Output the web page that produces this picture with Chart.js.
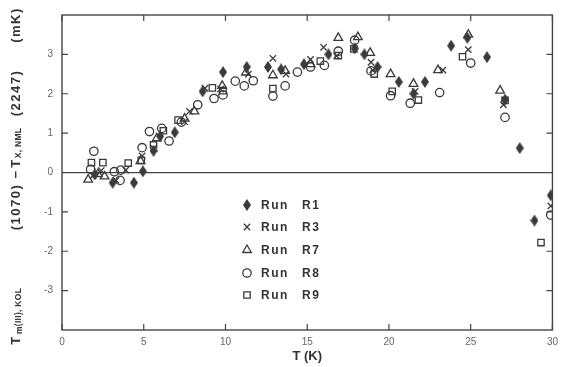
<!DOCTYPE html>
<html><head><meta charset="utf-8">
<script src="https://cdn.jsdelivr.net/npm/chart.js@4.4.1/dist/chart.umd.min.js"></script>
<style>html,body{margin:0;padding:0;background:#fff;}#wrap{width:564px;height:367px;}</style>
</head><body><div id="wrap"><canvas id="c" width="564" height="367"></canvas></div>
<script>
// ---- data (T in K, difference in mK) ----
const r1T = [2.0, 3.1, 4.4, 4.95, 5.6, 6.0, 6.9, 8.6, 9.85, 11.3, 12.6, 13.4, 14.8, 16.3, 17.9, 18.5, 19.3, 20.6, 21.5, 22.2, 23.8, 24.8, 26.0, 27.1, 28.0, 28.9, 29.9];
const r1V = [-0.05, -0.26, -0.26, 0.03, 0.55, 0.92, 1.02, 2.06, 2.55, 2.68, 2.68, 2.62, 2.75, 3.0, 3.15, 3.0, 2.68, 2.3, 2.0, 2.3, 3.22, 3.42, 2.93, 1.85, 0.62, -1.22, -0.58];
const r3T = [1.9, 2.4, 3.3, 3.9, 4.9, 5.6, 7.5, 7.8, 8.75, 9.7, 11.4, 12.9, 13.7, 15.2, 16.0, 16.8, 18.9, 19.0, 21.6, 23.3, 24.85, 27.0, 29.9];
const r3V = [-0.08, 0.05, -0.2, 0.06, 0.42, 0.62, 1.29, 1.55, 2.14, 2.12, 2.5, 2.9, 2.5, 2.87, 3.18, 2.96, 2.8, 2.6, 2.06, 2.6, 3.12, 1.72, -0.85];
const r7T = [1.6, 2.2, 2.6, 4.8, 5.8, 7.5, 8.1, 9.8, 11.25, 12.9, 13.65, 15.2, 16.9, 18.1, 18.85, 20.1, 21.5, 23.0, 24.85, 26.8];
const r7V = [-0.18, -0.04, -0.1, 0.29, 0.87, 1.37, 1.55, 2.2, 2.54, 2.47, 2.58, 2.75, 3.42, 3.44, 3.04, 2.5, 2.25, 2.6, 3.5, 2.08];
const r8T = [1.75, 1.95, 3.2, 3.55, 3.6, 4.9, 5.35, 6.1, 6.55, 7.3, 8.3, 9.3, 9.85, 10.6, 11.15, 11.7, 12.9, 13.65, 14.4, 15.2, 16.05, 16.9, 17.9, 18.9, 20.1, 21.3, 23.1, 25.0, 27.1, 29.9];
const r8V = [0.08, 0.54, 0.02, -0.2, 0.06, 0.63, 1.04, 1.12, 0.8, 1.28, 1.72, 1.88, 1.97, 2.32, 2.2, 2.33, 1.94, 2.2, 2.55, 2.68, 2.72, 3.08, 3.36, 2.58, 1.95, 1.76, 2.03, 2.78, 1.4, -1.08];
const r9T = [1.8, 2.5, 4.05, 4.85, 5.6, 6.2, 7.1, 9.2, 9.85, 12.9, 15.8, 16.9, 17.85, 19.1, 20.2, 21.8, 24.5, 27.1, 29.3];
const r9V = [0.25, 0.25, 0.24, 0.31, 0.7, 1.06, 1.33, 2.15, 2.08, 2.13, 2.83, 2.97, 3.14, 2.5, 2.06, 1.84, 2.94, 1.83, -1.78];
const seriesNames = ["Run  R1", "Run  R3", "Run  R7", "Run  R8", "Run  R9"];
const xTicks = [0, 5, 10, 15, 20, 25, 30];
const yTickLabels = ["-3", "-2", "-1", "0", "1", "2", "3"];

const INK = '#3a3a3a';
function pts(t, v) { return t.map((x, i) => ({ x: x, y: v[i] })); }

// tall filled diamond marker
const dia = document.createElement('canvas');
dia.width = 8; dia.height = 12;
(function () {
  const g = dia.getContext('2d');
  g.fillStyle = INK;
  g.beginPath(); g.moveTo(4, 0); g.lineTo(8, 6); g.lineTo(4, 12); g.lineTo(0, 6); g.closePath(); g.fill();
})();

const styles = [
  { pointStyle: dia, radius: 5, fill: INK },
  { pointStyle: 'crossRot', radius: 4.5, fill: 'transparent' },
  { pointStyle: 'triangle', radius: 5, fill: 'transparent' },
  { pointStyle: 'circle', radius: 4.2, fill: 'transparent' },
  { pointStyle: 'rect', radius: 4.5, fill: 'transparent' }
];
const raw = [[r1T, r1V], [r3T, r3V], [r7T, r7V], [r8T, r8V], [r9T, r9V]];
const datasets = raw.map((d, i) => ({
  label: seriesNames[i],
  data: pts(d[0], d[1]),
  pointStyle: styles[i].pointStyle,
  pointRadius: styles[i].radius,
  pointBackgroundColor: styles[i].fill,
  pointBorderColor: INK,
  pointBorderWidth: 1.3,
  showLine: false
}));

const frame = {
  id: 'frame',
  afterDatasetsDraw(chart) {
    const { ctx, chartArea: a, scales } = chart;
    const xs = scales.x, ys = scales.y;
    ctx.save();
    ctx.strokeStyle = '#444'; ctx.lineWidth = 1.4;
    ctx.strokeRect(a.left, a.top, a.right - a.left, a.bottom - a.top);
    ctx.lineWidth = 1.2;
    const L = 6;
    xs.ticks.forEach(t => {
      const p = xs.getPixelForValue(t.value);
      ctx.beginPath(); ctx.moveTo(p, a.bottom); ctx.lineTo(p, a.bottom - L);
      ctx.moveTo(p, a.top); ctx.lineTo(p, a.top + L); ctx.stroke();
    });
    ys.ticks.forEach(t => {
      const p = ys.getPixelForValue(t.value);
      ctx.beginPath(); ctx.moveTo(a.left, p); ctx.lineTo(a.left + L, p);
      ctx.moveTo(a.right, p); ctx.lineTo(a.right - L, p); ctx.stroke();
    });
    // legend
    const lx = 247, lrows = [205, 227, 250, 273, 295];
    ctx.fillStyle = '#333';
    ctx.font = 'bold 12px "Liberation Sans", Arial, sans-serif';
    ctx.letterSpacing = '1.5px';
    ctx.textBaseline = 'middle'; ctx.textAlign = 'left';
    datasets.forEach((ds, i) => {
      const y = lrows[i];
      ctx.lineWidth = 1.3; ctx.strokeStyle = INK; ctx.fillStyle = styles[i].fill;
      Chart.helpers.drawPoint(ctx, { pointStyle: ds.pointStyle, radius: styles[i].radius, borderWidth: 1.3, rotation: 0 }, lx, y);
      ctx.fillStyle = '#333';
      const parts = ds.label.split('  ');
      ctx.fillText(parts[0], 261, y + 1);
      ctx.fillText(parts[1], 302, y + 1);
    });
    // y axis title
    ctx.translate(16, 0);
    ctx.rotate(-Math.PI / 2);
    ctx.textAlign = 'center';
    const big = 'bold 13px "Liberation Sans", Arial, sans-serif';
    const small = 'bold 8.5px "Liberation Sans", Arial, sans-serif';
    const segs = [
      ['T', 340, big, 0], ['m', 330, small, 4], ['(III), KOL', 307, small, 3],
      ['(1070)', 207, big, 0], ['\u2212', 174, big, 0], ['T', 163, big, 0],
      ['X, NML', 143, small, 3], ['(2247)', 93, big, 0], ['(mK)', 25, big, 0]
    ];
    segs.forEach(s => {
      ctx.font = s[2];
      ctx.letterSpacing = s[2] === big ? '1.5px' : '0.3px';
      ctx.fillText(s[0], -s[1], s[3]);
    });
    ctx.restore();
  }
};

new Chart(document.getElementById('c'), {
  type: 'scatter',
  data: { datasets },
  options: {
    responsive: false, animation: false, devicePixelRatio: 1,
    layout: { padding: { top: 9, right: 9, left: 0, bottom: 0 } },
    plugins: { legend: { display: false }, tooltip: { enabled: false } },
    scales: {
      x: {
        type: 'linear', min: 0, max: 30,
        afterBuildTicks: s => { s.ticks = xTicks.map(v => ({ value: v })); },
        afterFit: s => { s.height = 37; },
        grid: { display: false, drawTicks: false },
        border: { display: false },
        ticks: { color: '#666', padding: 6, font: { size: 10, family: '"Liberation Sans", Arial, sans-serif' } },
        title: { display: true, text: 'T (K)', color: '#333', padding: { top: 0, bottom: 3 },
          font: { size: 13, weight: 'bold', family: '"Liberation Sans", Arial, sans-serif' } }
      },
      y: {
        type: 'linear', min: -4, max: 4,
        afterBuildTicks: s => { s.ticks = yTickLabels.map(v => ({ value: Number(v) })); },
        afterFit: s => { s.width = 62; },
        grid: { drawTicks: false, lineWidth: 1.3, color: c => (c.tick && c.tick.value === 0) ? '#444' : 'rgba(0,0,0,0)' },
        border: { display: false },
        ticks: { color: '#666', padding: 9, font: { size: 10, family: '"Liberation Sans", Arial, sans-serif' },
          callback: (v, i) => yTickLabels[i] }
      }
    }
  },
  plugins: [frame]
});
</script></body></html>
